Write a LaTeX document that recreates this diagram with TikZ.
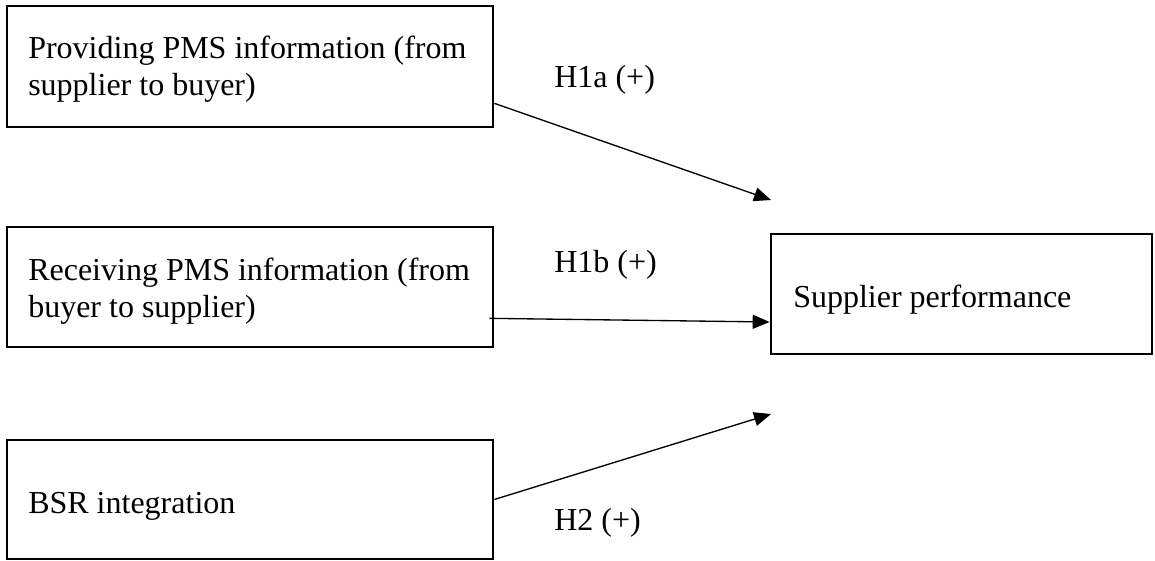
\documentclass[tikz,border=0pt]{standalone}
\usepackage{fontspec}
\setmainfont{Liberation Serif}
\usetikzlibrary{arrows.meta}

\tikzset{
  box/.style={draw, line width=2pt, inner sep=0pt, minimum width=364.5pt},
  boxtext/.style={anchor=base west, inner sep=0pt, align=left, font=\fontsize{24}{27.75}\selectfont},
  hyp/.style={anchor=base west, inner sep=0pt, font=\fontsize{24}{27.75}\selectfont},
  link/.style={line width=1pt, -{Triangle[length=12.75pt,width=10.5pt]}}
}

\begin{document}
\begin{tikzpicture}[x=0.75pt,y=0.75pt,yscale=-1,xscale=1]
\useasboundingbox (0,0) rectangle (1155,560);

% Boxes
\node (provide) [box, minimum height=90.75pt] at (250,66.5) {};
\node (receive) [box, minimum height=90pt] at (250,287) {};
\node (bsr) [box, minimum height=89.25pt] at (250,499.5) {};
\node (perf) [box, minimum width=285.75pt, minimum height=90pt] at (961.5,294) {};

% Text Node
\node (providetxt) [boxtext] at (28,95) {Providing PMS information (from\\supplier to buyer)};
% Text Node
\node (receivetxt) [boxtext] at (28,317) {Receiving PMS information (from\\buyer to supplier)};
% Text Node
\node (bsrtxt) [boxtext] at (28,513) {BSR integration};
% Text Node
\node (perftxt) [boxtext] at (793,307) {Supplier performance};

% Hypothesis labels
\node (h1a) [hyp] at (554,87) {H1a (+)};
\node (h1b) [hyp] at (554,272) {H1b (+)};
\node (h2) [hyp] at (554,530) {H2 (+)};

% Arrow ends
\coordinate (tipa) at (771,200);
\coordinate (tipc) at (771,414);

% Arrows (yscale=-1 flips the shifts)
\draw [link] ([yshift=-18.75pt]provide.south east) -- (tipa);
\draw [link] ([xshift=-3.75pt,yshift=-22.5pt]receive.south east) -- ([yshift=21pt]perf.west);
\draw [link] (bsr.east) -- (tipc);

\end{tikzpicture}
\end{document}
